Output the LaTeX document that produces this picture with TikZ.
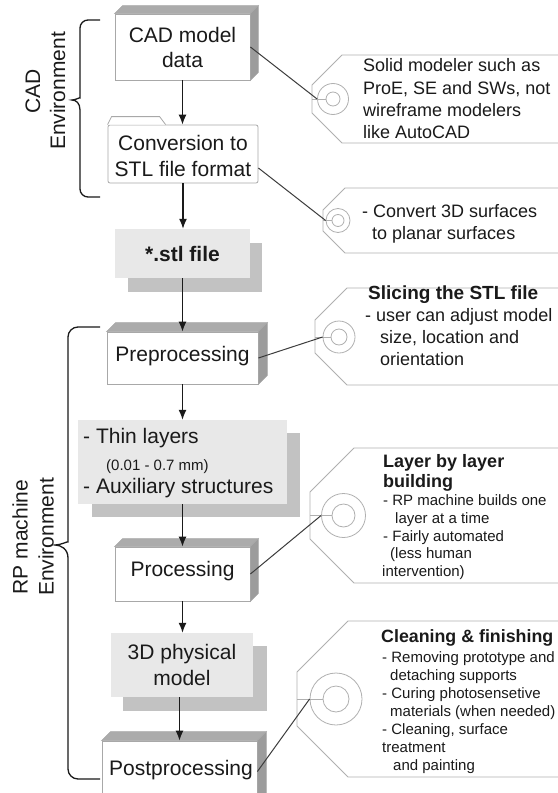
\documentclass[tikz,border=0pt]{standalone}
\usepackage{fontspec}
\setmainfont{Liberation Sans}
\usetikzlibrary{arrows.meta,calc}
\definecolor{ink}{HTML}{1A1A1A}
\definecolor{edge}{HTML}{A8A8A8}
\definecolor{faceT}{HTML}{ABABAB}
\definecolor{faceR}{HTML}{9C9C9C}
\definecolor{lite}{HTML}{E8E8E8}
\definecolor{shade}{HTML}{C2C2C2}
\definecolor{tagc}{HTML}{B0B0B0}
\definecolor{connc}{HTML}{3C3C3C}
\tikzset{
  bigt/.style={anchor=base, inner sep=0, text=ink, font=\fontsize{21bp}{25bp}\selectfont},
  bigb/.style={anchor=base, inner sep=0, text=ink, font=\fontsize{21bp}{25bp}\selectfont\bfseries},
  lwt/.style={anchor=base west, inner sep=0, text=ink, font=\fontsize{21bp}{25bp}\selectfont},
  tagt/.style={anchor=base west, inner sep=0, text=ink, font=\fontsize{18bp}{22bp}\selectfont},
  tagb/.style={anchor=base west, inner sep=0, text=ink, font=\fontsize{18bp}{22bp}\selectfont\bfseries},
  smt/.style={anchor=base west, inner sep=0, text=ink, font=\fontsize{15bp}{18bp}\selectfont},
  front/.style={draw=edge, fill=white, line width=0.8bp, inner sep=0, rectangle},
  litebox/.style={fill=lite, inner sep=0, rectangle},
  shadebox/.style={fill=shade, inner sep=0, rectangle},
  hole/.style={circle, draw=tagc, line width=0.8bp, inner sep=0},
  tagline/.style={draw=tagc, line width=0.8bp},
  connline/.style={draw=connc, line width=1bp},
  arr/.style={-{Latex[length=10bp,width=8bp]}, line width=1.4bp, draw=ink},
  bracestyle/.style={draw=ink, line width=1.3bp},
  envlab/.style={rotate=90, align=center, text=ink, inner sep=0}
}
\newcommand\boxfaces[2]{%
  \filldraw[draw=edge, fill=faceT, line width=0.6bp] (#1.north west) -- ([shift={(#2,-#2)}]#1.north west) -- ([shift={(#2,-#2)}]#1.north east) -- (#1.north east) -- cycle;
  \filldraw[draw=edge, fill=faceR, line width=0.6bp] (#1.north east) -- ([shift={(#2,-#2)}]#1.north east) -- ([shift={(#2,-#2)}]#1.south east) -- (#1.south east) -- cycle;}
\newcommand\tagshape[4]{%
  \filldraw[tagline, fill=white] (570,#2) -- ({#1+#4},#2) -- (#1,{#2+#4}) -- (#1,{#3-#4}) -- ({#1+#4},#3) -- (570,#3);}
\begin{document}
\begin{tikzpicture}[x=1bp,y=-1bp]
\useasboundingbox (0,0) rectangle (558,793);
\clip (0,0) rectangle (558,793);
\fill[white] (0,0) rectangle (558,793);

% ---------- tags ----------
\tagshape{312}{55}{143}{30}
\tagshape{323}{188}{253}{22}
\tagshape{315}{288}{385}{32}
\tagshape{310}{448}{583}{44}
\tagshape{297}{621}{777}{51}

\node[hole, minimum size=31bp] (h1) at (333,99) {};
\node[hole, minimum size=14bp] (h1i) at (333,99) {};
\coordinate (p1) at (312,99);
\node[hole, minimum size=24bp] (h2) at (338,220.5) {};
\node[hole, minimum size=12bp] (h2i) at (338,220.5) {};
\coordinate (p2) at (323,220.5);
\node[hole, minimum size=32bp] (h3) at (339,337) {};
\node[hole, minimum size=16bp] (h3i) at (339,337) {};
\coordinate (p3) at (315,337);
\node[hole, minimum size=44bp] (h4) at (343.5,515.5) {};
\node[hole, minimum size=23bp] (h4i) at (343.5,515.5) {};
\coordinate (p4) at (310,515.5);
\node[hole, minimum size=52bp] (h5) at (336,699) {};
\node[hole, minimum size=26bp] (h5i) at (336,699) {};
\coordinate (p5) at (297,699);
\foreach \k in {1,...,5} {\draw[tagline] (p\k) -- (h\k i.west);}

% ---------- flow boxes ----------
\node[front, minimum width=135bp, minimum height=66bp] (cad) at (182.5,47) {};
\boxfaces{cad}{8}
\node[front, minimum width=150bp, minimum height=58bp, rounded corners=2bp] (conv) at (183,154) {};
\filldraw[draw=edge, fill=white, line width=0.8bp] (conv.north west) -- ++(4,-8) -- ++(48,0) -- ++(6,8);
\node[shadebox, minimum width=134bp, minimum height=49bp] (stlS) at (195,267.5) {};
\node[litebox, minimum width=135bp, minimum height=49bp] (stl) at (182.5,253.5) {};
\node[front, minimum width=151bp, minimum height=52bp] (prep) at (182.5,358) {};
\boxfaces{prep}{9}
\node[shadebox, minimum width=208bp, minimum height=84bp] (thinS) at (196,475) {};
\node[litebox, minimum width=209bp, minimum height=84bp] (thin) at (182.5,462) {};
\node[front, minimum width=135bp, minimum height=54bp] (proc) at (182.5,574) {};
\boxfaces{proc}{8}
\node[shadebox, minimum width=144bp, minimum height=65bp] (physS) at (195,678.5) {};
\node[litebox, minimum width=142bp, minimum height=64bp] (phys) at (182,665) {};
\node[front, minimum width=155bp, minimum height=61bp] (post) at (179.5,771.5) {};
\boxfaces{post}{9}

% ---------- box texts ----------
\node[bigt] (tcad1) at (182.5,42.5) {CAD model};
\node[bigt] (tcad2) at (182.5,68) {data};
\node[bigt] (tconv1) at (183,150) {Conversion to};
\node[bigt] (tconv2) at (183,176) {STL file format};
\node[bigb] (tstl) at (182.5,261) {*.stl file};
\node[bigt] (tprep) at (182.5,361) {Preprocessing};
\node[lwt] (tthin1) at (83,443) {- Thin layers};
\node[smt] (tthin2) at (106,470) {(0.01 - 0.7 mm)};
\node[lwt] (tthin3) at (83,493) {- Auxiliary structures};
\node[bigt] (tproc) at (182.5,576) {Processing};
\node[bigt] (tphys1) at (182,659) {3D physical};
\node[bigt] (tphys2) at (182,685) {model};
\node[bigt] (tpost) at (181,775) {Postprocessing};

% ---------- arrows ----------
\draw[arr] (cad.south) -- (cad.south |- conv.north);
\draw[arr] (conv.south) -- (conv.south |- stl.north);
\draw[arr] (stl.south) -- (stl.south |- prep.north);
\draw[arr] (prep.south) -- (prep.south |- thin.north);
\draw[arr] (thin.south) -- (thin.south |- proc.north);
\draw[arr] (proc.south) -- (proc.south |- phys.north);
\draw[arr] (post.north |- phys.south) -- (post.north);

% ---------- connectors to tags ----------
\draw[connline] (cad.east) -- (h1.west);
\draw[connline] ([shift={(0,14)}]conv.east) -- (h2.west);
\draw[connline] (prep.east) -- (h3.west);
\draw[connline] (proc.east) -- (h4.west);
\draw[connline] (post.east) -- (h5.west);

% ---------- tag texts ----------
\node[tagt] (a1) at (363,72) {Solid modeler such as};
\node[tagt] (a2) at (363,94) {ProE, SE and SWs, not};
\node[tagt] (a3) at (363,116) {wireframe modelers};
\node[tagt] (a4) at (363,138) {like AutoCAD};
\node[tagt] (b1) at (362,217) {- Convert 3D surfaces};
\node[tagt] (b2) at (372,239) {to planar surfaces};
\node[tagb, font=\fontsize{19bp}{22bp}\selectfont\bfseries] (c1) at (368,299) {Slicing the STL file};
\node[tagt] (c2) at (365,321) {- user can adjust model};
\node[tagt] (c3) at (380,343) {size, location and};
\node[tagt] (c4) at (380,365) {orientation};
\node[tagb] (d1) at (383,467) {Layer by layer};
\node[tagb] (d2) at (383,487) {building};
\node[smt] (d3) at (383,505) {- RP machine builds one};
\node[smt] (d4) at (395,523) {layer at a time};
\node[smt] (d5) at (383,541) {- Fairly automated};
\node[smt] (d6) at (390,558) {(less human};
\node[smt] (d7) at (382,576) {intervention)};
\node[tagb, font=\fontsize{17.8bp}{22bp}\selectfont\bfseries] (e1) at (381,642) {Cleaning \& finishing};
\node[smt] (e2) at (382,662) {- Removing prototype and};
\node[smt] (e3) at (390,680) {detaching supports};
\node[smt] (e4) at (382,698) {- Curing photosensetive};
\node[smt] (e5) at (390,716) {materials (when needed)};
\node[smt] (e6) at (382,734) {- Cleaning, surface};
\node[smt] (e7) at (382,752) {treatment};
\node[smt] (e8) at (393,770) {and painting};

% ---------- braces and environment labels ----------
\draw[bracestyle] (100,20) [rounded corners=8bp] -- (80,20) -- (80,90) [sharp corners]
  .. controls (80,97) and (76,100) .. (72,100)
  .. controls (76,100) and (80,103) .. (80,110) [rounded corners=8bp] -- (80,197) -- (100,197);
\draw[bracestyle] (100,327) [rounded corners=10bp] -- (68,327) -- (68,532) [sharp corners]
  .. controls (68,541) and (61,545) .. (55,545)
  .. controls (61,545) and (68,549) .. (68,558) [rounded corners=10bp] -- (68,779) -- (100,779);
\node[envlab, font=\fontsize{21bp}{25bp}\selectfont] (cadlab) at (45.5,91) {CAD\\Environment};
\node[envlab, font=\fontsize{21bp}{26bp}\selectfont] (rplab) at (33,537) {RP machine\\Environment};
\end{tikzpicture}
\end{document}
